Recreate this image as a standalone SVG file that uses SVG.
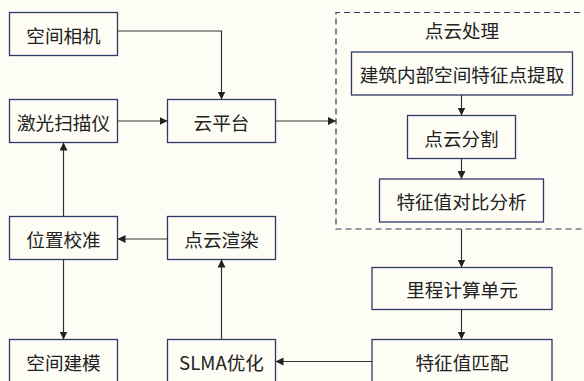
<svg xmlns="http://www.w3.org/2000/svg" width="584" height="381" viewBox="0 0 584 381">
<defs>
<marker id="arr" viewBox="0 0 10 10" refX="10" refY="5" markerWidth="8" markerHeight="8" markerUnits="userSpaceOnUse" orient="auto">
<path d="M0,0 L10,5 L0,10 z" fill="#222"/>
</marker>
<style>
.box{fill:#fdfdf5;stroke:#2e3a66;stroke-width:1.3}
.lbl{font-family:"Noto Sans CJK SC","Microsoft YaHei",sans-serif;font-size:18.6px;fill:#222;text-anchor:middle;dominant-baseline:central}
.ln{fill:none;stroke:#333;stroke-width:1.2;marker-end:url(#arr)}
.dash{fill:none;stroke:#2e3a66;stroke-width:1.2;stroke-dasharray:6 4}
</style>
</defs>
<rect width="584" height="381" fill="#fdfdf5"/>
<g id="group-pointcloud">
<path class="dash" d="M600,12.5 H336 V229 H600"/>
<text class="lbl" x="462" y="29">点云处理</text>
</g>
<g id="n-camera"><rect class="box" x="9.5" y="12.5" width="108" height="43"/><text class="lbl" x="63.5" y="34">空间相机</text></g>
<g id="n-laser"><rect class="box" x="9.5" y="99.5" width="108" height="43"/><text class="lbl" x="63.5" y="121">激光扫描仪</text></g>
<g id="n-cloud"><rect class="box" x="167.5" y="99.5" width="108" height="43"/><text class="lbl" x="221.5" y="121">云平台</text></g>
<g id="n-extract"><rect class="box" x="351.5" y="52" width="221" height="43"/><text class="lbl" x="462" y="73.5">建筑内部空间特征点提取</text></g>
<g id="n-seg"><rect class="box" x="407.5" y="115.5" width="108" height="43"/><text class="lbl" x="461.5" y="137">点云分割</text></g>
<g id="n-compare"><rect class="box" x="379.5" y="179" width="164" height="43"/><text class="lbl" x="461.5" y="200.5">特征值对比分析</text></g>
<g id="n-odo"><rect class="box" x="372" y="267.5" width="180" height="42"/><text class="lbl" x="462" y="288.5">里程计算单元</text></g>
<g id="n-match"><rect class="box" x="372" y="339.5" width="180" height="43"/><text class="lbl" x="462" y="361">特征值匹配</text></g>
<g id="n-calib"><rect class="box" x="9.5" y="216.5" width="108" height="43"/><text class="lbl" x="63.5" y="238">位置校准</text></g>
<g id="n-render"><rect class="box" x="167.5" y="216.5" width="108" height="43"/><text class="lbl" x="221.5" y="238">点云渲染</text></g>
<g id="n-model"><rect class="box" x="9.5" y="339.5" width="108" height="43"/><text class="lbl" x="63.5" y="361">空间建模</text></g>
<g id="n-slma"><rect class="box" x="167.5" y="339.5" width="108" height="43"/><text class="lbl" x="221.5" y="361">SLMA优化</text></g>
<g id="connectors">
<path class="ln" d="M117.5,31 H221.5 V99.5"/>
<path class="ln" d="M117.5,121 H167.5"/>
<path class="ln" d="M275.5,121 H336"/>
<path class="ln" d="M461.5,95 V115.5"/>
<path class="ln" d="M461.5,158.5 V179"/>
<path class="ln" d="M461.5,229 V267.5"/>
<path class="ln" d="M461.5,309.5 V339.5"/>
<path class="ln" d="M372,361.5 H275.5"/>
<path class="ln" d="M221.5,339.5 V259.5"/>
<path class="ln" d="M167.5,239 H117.5"/>
<path class="ln" d="M63.5,216.5 V142.5"/>
<path class="ln" d="M63.5,259.5 V339.5"/>
</g>
</svg>
